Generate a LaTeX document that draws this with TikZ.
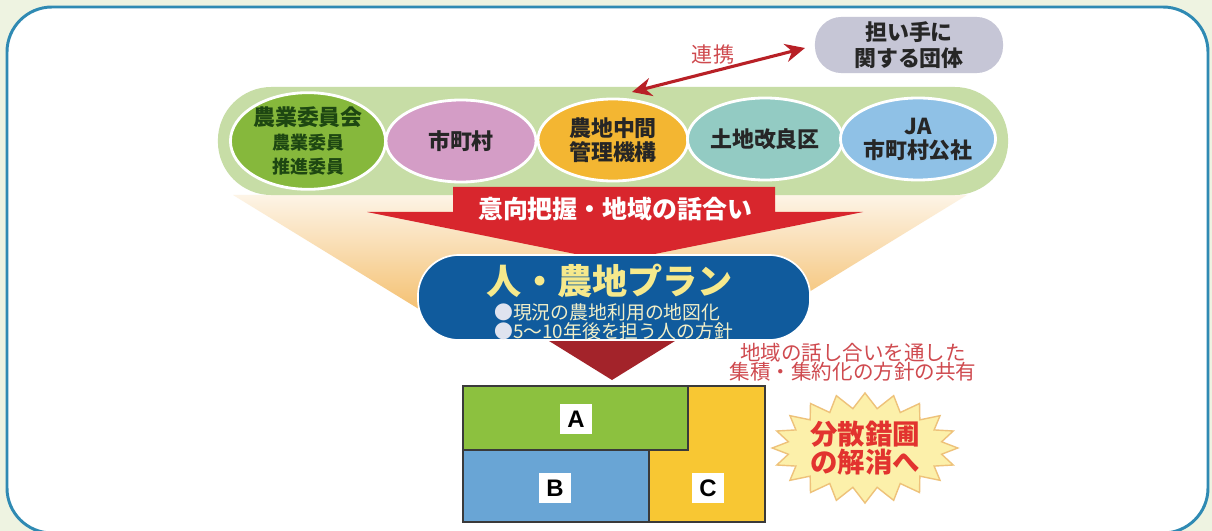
\documentclass[tikz,border=0pt]{standalone}
\usepackage{fontspec}
\setmainfont{Noto Sans CJK JP}
\newfontfamily\lat{Liberation Sans}
\usetikzlibrary{shapes.geometric,shapes.symbols,arrows.meta}
\definecolor{bgc}{HTML}{EEF3E1}
\definecolor{framec}{HTML}{2F8AB3}
\definecolor{bandc}{HTML}{C7DDA6}
\definecolor{eAc}{HTML}{86B83C}
\definecolor{eAt}{HTML}{1E4712}
\definecolor{eBc}{HTML}{D49DC6}
\definecolor{eCc}{HTML}{F3B632}
\definecolor{eDc}{HTML}{93CBC3}
\definecolor{eEc}{HTML}{8FC1E6}
\definecolor{darkt}{HTML}{262626}
\definecolor{redc}{HTML}{D8262D}
\definecolor{dredc}{HTML}{A3232A}
\definecolor{bluec}{HTML}{105B9D}
\definecolor{yel}{HTML}{F6E98C}
\definecolor{cream}{HTML}{F2EFC8}
\definecolor{bul}{HTML}{DFE3EF}
\definecolor{redt}{HTML}{CF4A4F}
\definecolor{blkA}{HTML}{8CC13F}
\definecolor{blkB}{HTML}{69A5D5}
\definecolor{blkC}{HTML}{F8C733}
\definecolor{burstc}{HTML}{FCF0AA}
\definecolor{burstd}{HTML}{EEC27A}
\definecolor{redb}{HTML}{E2332F}
\definecolor{boxc}{HTML}{C6C6D6}
\definecolor{fanT}{HTML}{FDF4E6}
\definecolor{fanB}{HTML}{F3B85E}
\definecolor{linec}{HTML}{3A3A3A}
\newcommand\fsz[2]{\fontsize{#1}{#2}\selectfont\lineskiplimit=-20pt\relax}
\begin{document}
\begin{tikzpicture}[x=0.025cm,y=-0.025cm,
  ell/.style={ellipse, draw=white, line width=2pt, minimum width=3.75cm, minimum height=2.05cm, inner sep=0pt, align=center, text=darkt, font=\fsz{15.6}{18}\bfseries},
  lbl/.style={fill=white, minimum width=0.8cm, minimum height=0.75cm, inner sep=0pt, font=\lat\bfseries\fontsize{17}{17}\selectfont},
  blk/.style={draw=linec, line width=0.9pt},
  linkarrow/.style={draw=redc!85!black, line width=2.2pt, {Stealth[length=14pt,width=13pt]}-{Stealth[length=14pt,width=13pt]}}
]
\clip (0,0) rectangle (1212,531);
\useasboundingbox (0,0) rectangle (1212,531);
\fill[bgc] (0,0) rectangle (1212,531);
\draw[framec, line width=2.1pt, fill=white, rounded corners=32pt] (7,7) rectangle (1208,533);

% fan
\shade[top color=fanT, bottom color=fanB] (233,195) -- (967,195) -- (747,330) -- (453,330) -- cycle;

% group band and members
\node[fill=bandc, rounded corners=38pt, minimum width=19.75cm, minimum height=2.7cm] (grp) at (613,141) {};
\node[ell, fill=eAc, text=eAt] (nogyo) at (308,141) {農業委員会\\[-1pt]{\fsz{12.8}{14}農業委員}\\[-1pt]{\fsz{12.8}{14}推進委員}};
\node[ell, fill=eBc] (shi) at (461,141) {市町村};
\node[ell, fill=eCc, font=\fsz{15.6}{17.5}\bfseries] (kiko) at (613,140) {農地中間\\管理機構};
\node[ell, fill=eDc] (kairyo) at (765,139) {土地改良区};
\node[ell, fill=eEc, font=\fsz{15.6}{17}\bfseries] (ja) at (918,139) {JA\\市町村公社};

% red arrow band
\fill[redc] (453,187) -- (775,187) -- (775,212) -- (863,212) -- (615,262) -- (367,212) -- (453,212) -- cycle;
\node[text=white, font=\fsz{17.7}{20}\bfseries] (talk) at (615,209) {意向把握・地域の話合い};

% dark red arrow below plan
\fill[dredc] (541,336) -- (683,336) -- (612,380) -- cycle;

% plan pill
\node[draw=white, line width=1.2pt, fill=bluec, rounded corners=29pt, minimum width=9.8cm, minimum height=2.125cm] (plan) at (614,297.5) {};
\node[text=yel, font=\fsz{25}{28}\bfseries] (ttl) at (610,281) {人・農地プラン};
\node[anchor=west, inner sep=0pt, text=cream, font=\fsz{13.4}{13.6}, align=left] (bl) at (494,322) {{\color{bul}●}現況の農地利用の地図化\\{\color{bul}●}5～10年後を担う人の方針};

% shared policy text
\node[text=redt, font=\fsz{14.6}{13.7}, align=center] (share) at (853,362) {地域の話し合いを通した\\集積・集約化の方針の共有};

% block plan
\fill[blkA] (463,386) rectangle (688,450);
\fill[blkB] (463,450) rectangle (649,522);
\fill[blkC] (688,386) -- (765,386) -- (765,522) -- (649,522) -- (649,450) -- (688,450) -- cycle;
\draw[blk] (463,450) -- (688,450) -- (688,386);
\draw[blk] (649,450) -- (649,522);
\draw[blk] (463,386) rectangle (765,522);
\node[lbl] (la) at (576,419) {A};
\node[lbl] (lb) at (555,488) {B};
\node[lbl] (lc) at (708,488) {C};

% starburst
\node[starburst, starburst points=20, starburst point height=0.38cm, random starburst=0, fill=burstc, draw=burstd, line width=1pt, minimum width=4.4cm, minimum height=2.75cm, inner sep=0pt, align=center, text=redb, font=\fsz{19.5}{19.5}\bfseries] (burst) at (865,448) {分散錯圃\\の解消へ};

% organisation box and link
\node[fill=boxc, rounded corners=19pt, minimum width=4.7cm, minimum height=1.35cm, align=center, text=darkt, font=\fsz{15.6}{18.4}\bfseries] (org) at (909,45) {担い手に\\関する団体};
\coordinate (lkA) at (632,92);
\coordinate (lkB) at (805,48);
\draw[linkarrow] (lkA) -- (lkB);
\node[text=redt, font=\fsz{15}{15}] (lk) at (713,55) {連携};
\end{tikzpicture}
\end{document}
